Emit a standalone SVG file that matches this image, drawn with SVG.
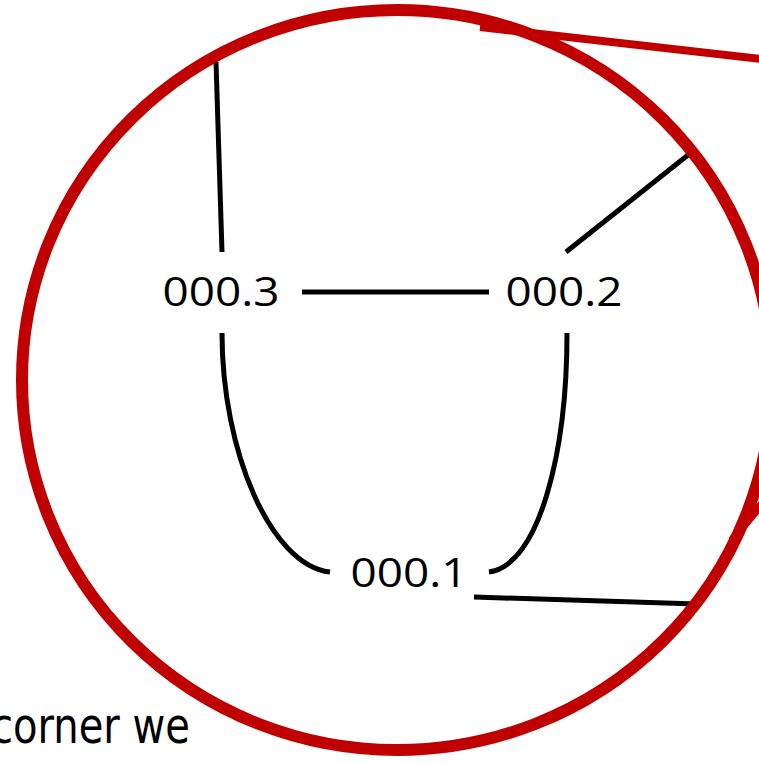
<svg xmlns="http://www.w3.org/2000/svg" width="759" height="764" viewBox="0 0 759 764">
<style>
.lbl{font-family:"Open Sans","Noto Sans",sans-serif;font-size:41px;fill:#000;text-anchor:middle}
.edge{fill:none;stroke:#000;stroke-width:5}
.red{fill:none;stroke:#C00000;stroke-width:12}
.redl{fill:none;stroke:#C00000;stroke-width:8}
</style>
<rect width="759" height="764" fill="#fff"/>
<g id="connectors">
<path class="edge" d="M216,62 L222,252"/>
<path class="edge" d="M302,292 L489,292"/>
<path class="edge" d="M566,252 L688,155"/>
<path class="edge" d="M222,333 C222,450 270,565 330,572"/>
<path class="edge" d="M567,333 C567,450 540,565 489,572"/>
<path class="edge" d="M474,597 L697,604"/>
</g>
<g id="zoom">
<ellipse class="red" cx="397" cy="380" rx="375" ry="370"/>
<path class="redl" d="M480,27 L775,60.5"/>
<path class="redl" d="M732,540 L775,488"/>
</g>
<g id="n3"><text class="lbl" x="221" y="306" textLength="117" lengthAdjust="spacingAndGlyphs">000.3</text></g>
<g id="n2"><text class="lbl" x="564" y="306" textLength="117" lengthAdjust="spacingAndGlyphs">000.2</text></g>
<g id="n1"><text class="lbl" x="409" y="587" textLength="117" lengthAdjust="spacingAndGlyphs">000.1</text></g>
<text x="-9" y="743" textLength="199" lengthAdjust="spacingAndGlyphs" style="font-family:'DejaVu Sans',sans-serif;font-size:50px;fill:#000">corner we</text>
</svg>
